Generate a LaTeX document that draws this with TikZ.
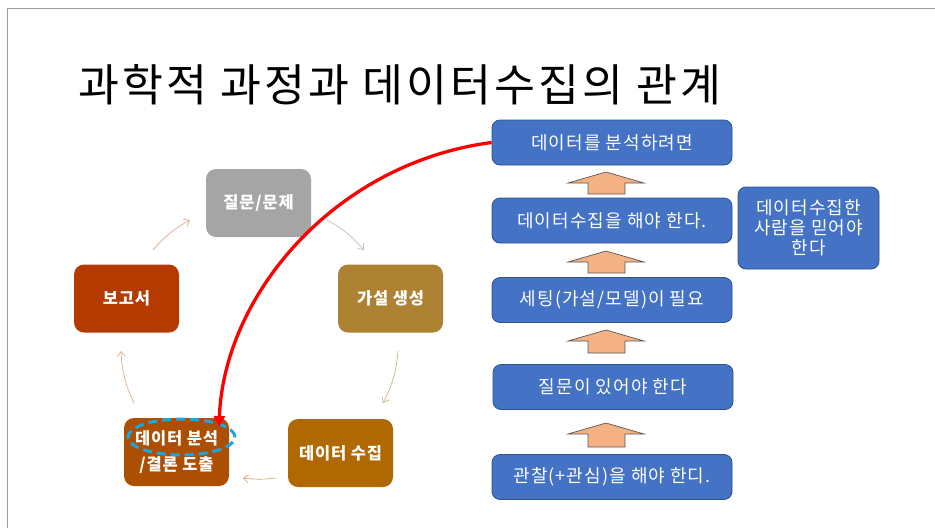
\documentclass[tikz,border=0pt]{standalone}
\usepackage{fontspec}
\setmainfont{Noto Sans CJK KR}
\usetikzlibrary{arrows.meta}
\definecolor{qgray}{HTML}{A5A5A5}
\definecolor{repc}{HTML}{B43A02}
\definecolor{hypc}{HTML}{AE8233}
\definecolor{colc}{HTML}{B06800}
\definecolor{anac}{HTML}{AD4F03}
\definecolor{bluef}{HTML}{4472C4}
\definecolor{blued}{HTML}{2F528F}
\definecolor{arrf}{HTML}{F4B183}
\definecolor{cyanc}{HTML}{1AA6E0}
\tikzset{
  cyc/.style={rounded corners=10pt, minimum width=105pt, minimum height=68pt, text=white, font=\fontsize{16.5}{26}\selectfont\bfseries\addfontfeatures{LetterSpace=5}, align=center, inner sep=0pt},
  bluebox/.style={rounded corners=8pt, fill=bluef, draw=blued, line width=0.8pt, minimum width=240pt, minimum height=45pt, text=white, font=\fontsize{18}{20}\selectfont\addfontfeatures{LetterSpace=6}, align=center, inner sep=0pt},
  thinarr/.style={line width=0.7pt, -{Straight Barb[length=5pt,width=8pt]}},
  blockarr/.style={fill=arrf, draw=black!65, line width=0.7pt}
}
\begin{document}
\begin{tikzpicture}[x=1pt,y=1pt]
\useasboundingbox (0,0) rectangle (935,-528);
\fill[white] (0,0) rectangle (935,-528);
% slide border
\draw[black!38, line width=1.5pt] (7.5,-528) -- (7.5,-8.5) -- (935,-8.5);
% title
\node[anchor=west, inner sep=0pt, font=\fontsize{44.5}{50}\selectfont\addfontfeatures{LetterSpace=7}] (title) at (78,-85) {과학적 과정과 데이터수집의 관계};
% cycle boxes
\node[cyc, fill=qgray] (q) at (258.5,-203) {질문/문제};
\node[cyc, fill=hypc] (h) at (390.5,-298.5) {가설 생성};
\node[cyc, fill=colc] (c) at (340.5,-453) {데이터 수집};
\node[cyc, fill=anac] (a) at (176.5,-452) {데이터 분석\\/결론 도출};
\node[cyc, fill=repc] (r) at (126.5,-298.5) {보고서};
% cycle arrow endpoints
\coordinate (r1) at (153,-250); \coordinate (r2) at (190,-220);
\coordinate (q1) at (327,-220); \coordinate (q2) at (364,-250);
\coordinate (h1) at (398,-351); \coordinate (h2) at (383,-403);
\coordinate (c1) at (276,-478); \coordinate (c2) at (243,-478);
\coordinate (a1) at (134,-403); \coordinate (a2) at (121,-351);
\draw[thinarr, color=repc!45] (r1) to[bend left=10] (r2);
\draw[thinarr, color=qgray!70] (q1) to[bend left=10] (q2);
\draw[thinarr, color=hypc!60] (h1) to[bend left=11] (h2);
\draw[thinarr, color=colc!55] (c1) to[bend left=7] (c2);
\draw[thinarr, color=anac!45] (a1) to[bend left=11] (a2);
% right side boxes
\node[bluebox] (b1) at (612,-142.5) {데이터를 분석하려면};
\node[bluebox] (b2) at (612,-220.5) {데이터수집을 해야 한다.};
\node[bluebox] (b3) at (612,-300) {세팅(가설/모델)이 필요};
\node[bluebox] (b4) at (613,-387) {질문이 있어야 한다};
\node[bluebox] (b5) at (612,-477) {관찰(+관심)을 해야 한디.};
\node[bluebox, minimum width=141pt, minimum height=82pt, font=\fontsize{18}{20}\selectfont\addfontfeatures{LetterSpace=6}] (side) at (808.5,-228) {데이터수집한\\사람을 믿어야\\한다};
% block arrows
\foreach \t/\b/\k in {172/194/1, 251/273/2, 330/353/3, 423/447/4}{
  \pgfmathsetmacro{\mid}{\t+11}
  \draw[blockarr] (588,-\b) -- (588,-\mid) -- (568,-\mid) -- (606,-\t) -- (644,-\mid) -- (625,-\mid) -- (625,-\b) -- cycle;
}
% dashed ellipse
\draw[cyanc, line width=3pt, dash pattern=on 9pt off 5pt] (181.5,-437) ellipse (53.5 and 18);
% red arrow
\coordinate (rtip) at (219,-427);
\draw[red, line width=3.3pt, -{Triangle[length=11pt,width=11pt]}] (b1.west) .. controls (335,-163) and (224,-295) .. (rtip);
\end{tikzpicture}
\end{document}
